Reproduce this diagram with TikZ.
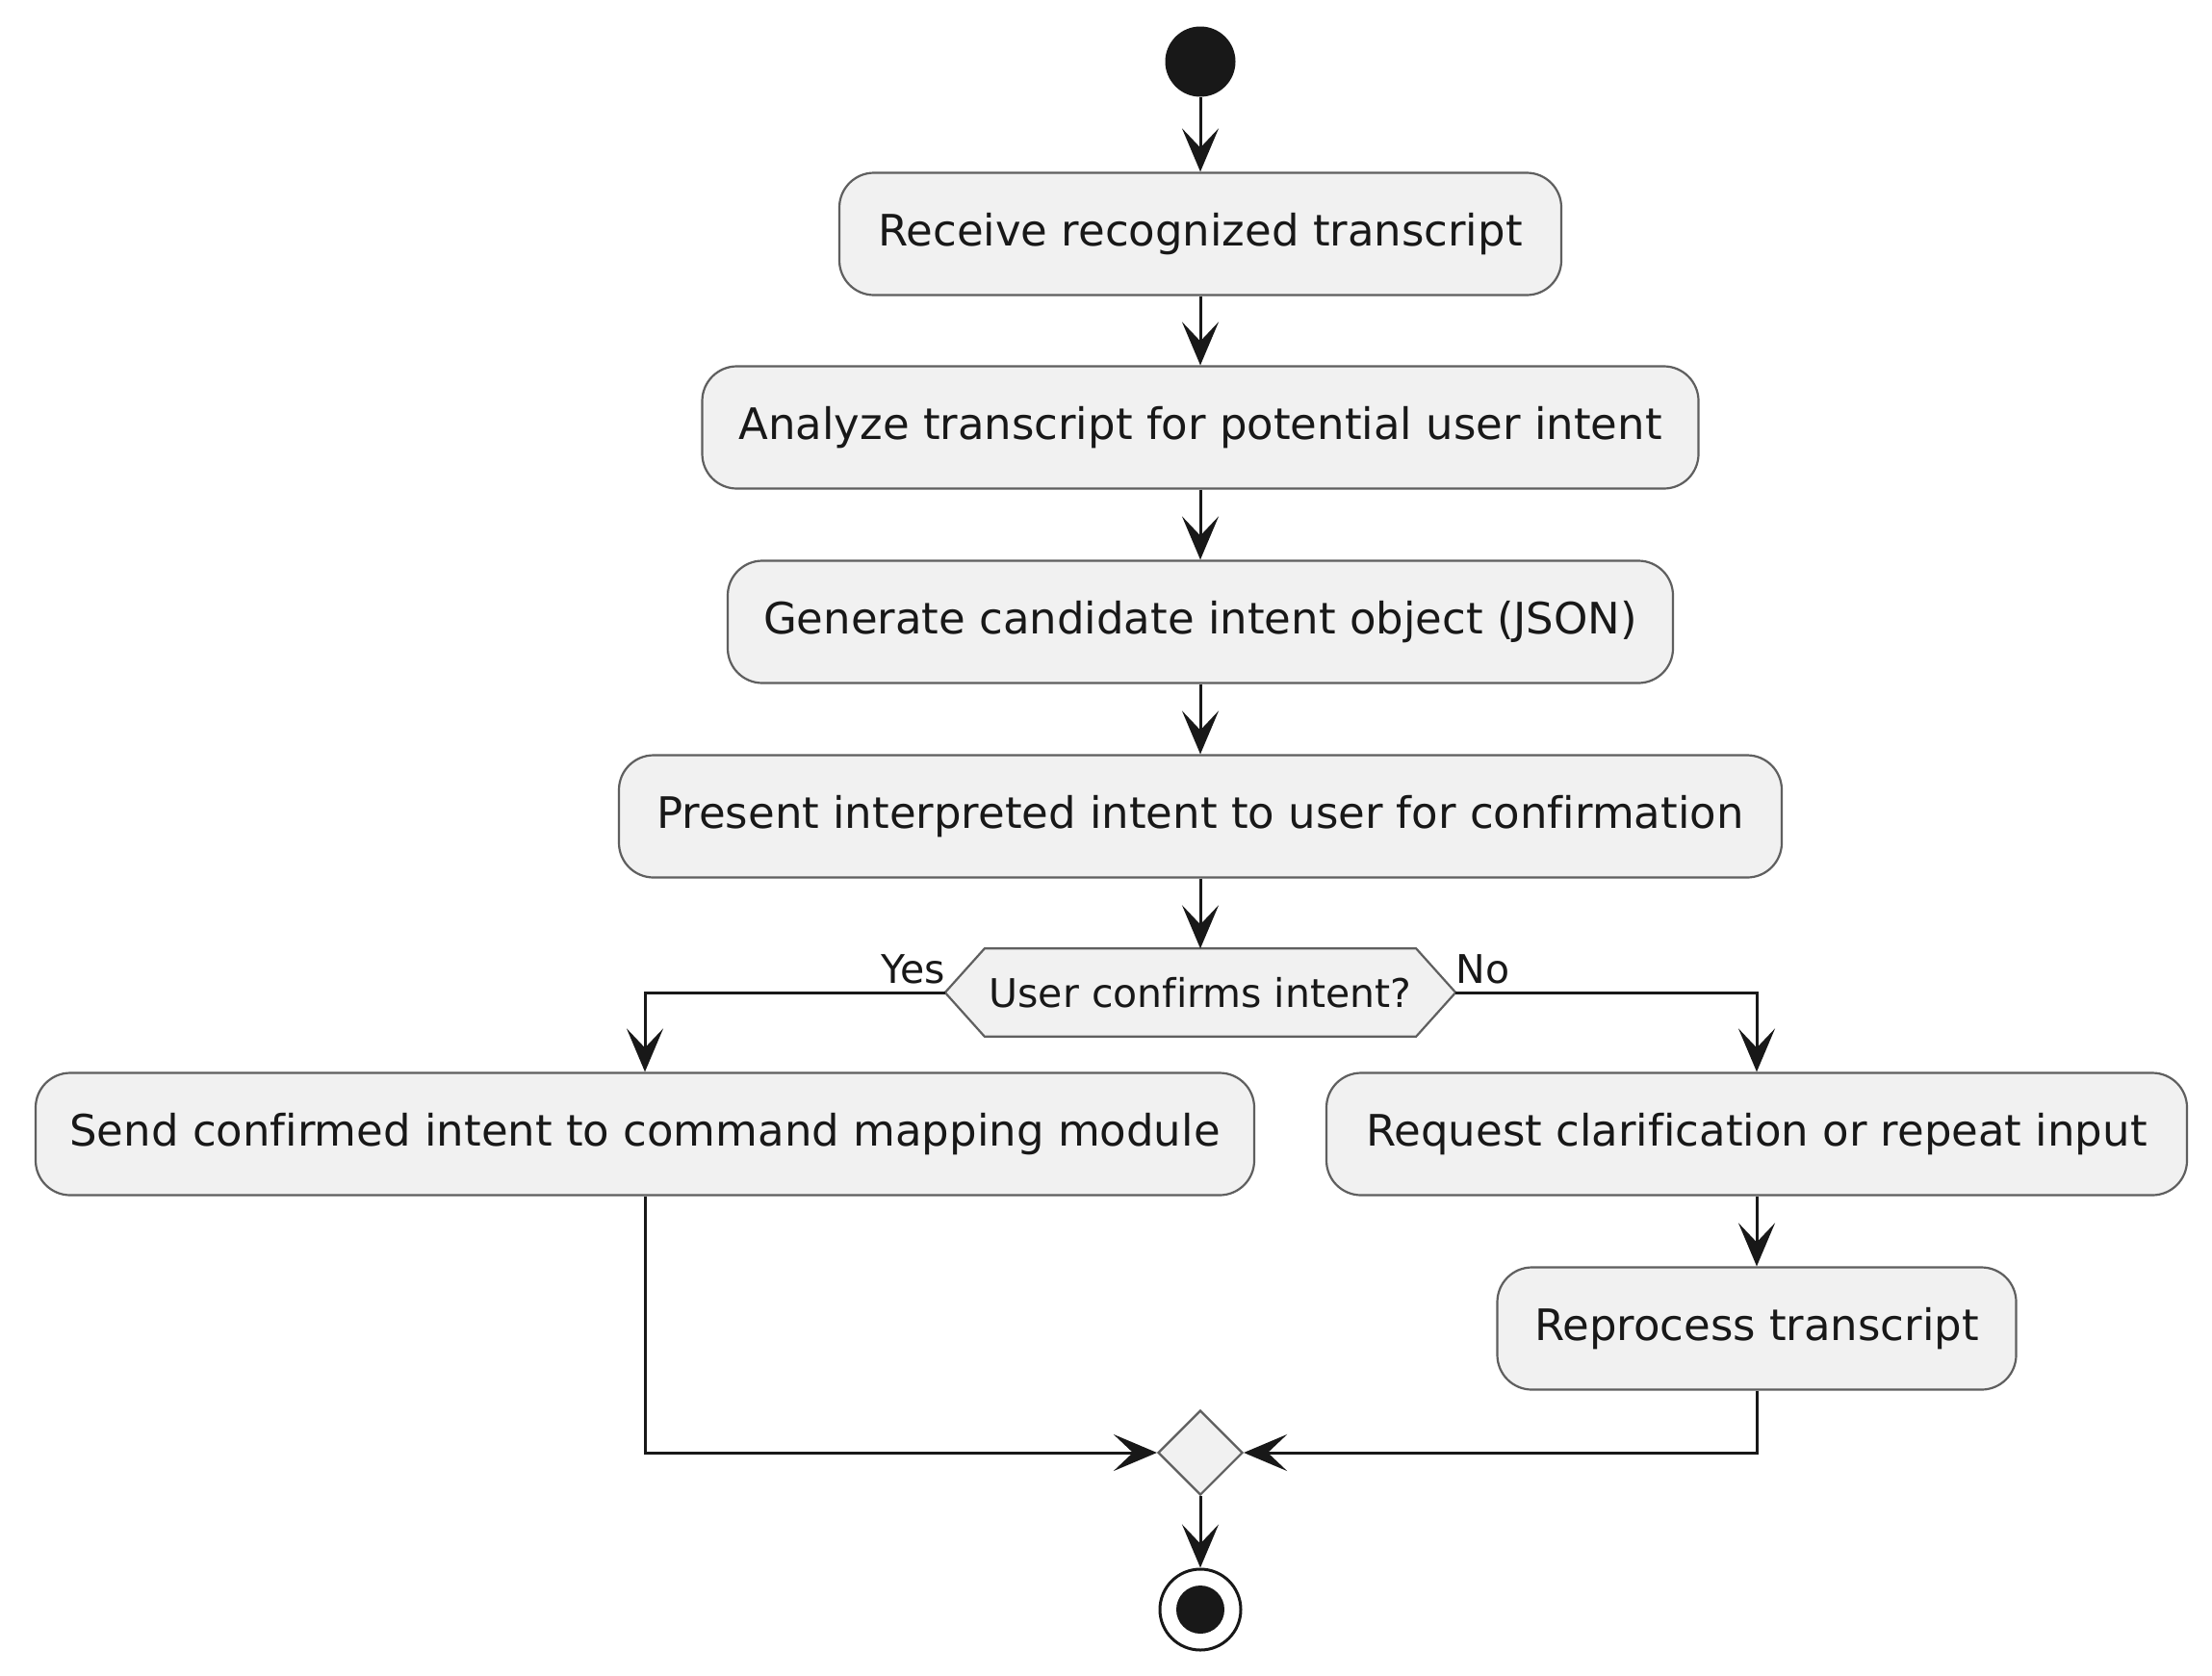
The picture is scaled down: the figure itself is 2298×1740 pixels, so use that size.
\documentclass[tikz,border=0pt]{standalone}
\usepackage{fontspec}
\setmainfont{DejaVu Sans}[Ligatures={NoCommon}]
\usetikzlibrary{arrows.meta,shapes.geometric,backgrounds}
\definecolor{ink}{HTML}{181818}
\definecolor{boxfill}{HTML}{F1F1F1}
\definecolor{boxline}{HTML}{5F5F5F}
\begin{document}
\begin{tikzpicture}[x=1pt,y=-1pt,
  act/.style={rectangle, rounded corners=36pt, draw=boxline, line width=2.2pt, fill=boxfill, text=ink, minimum height=127pt, inner sep=0pt, font=\fontsize{45pt}{54pt}\selectfont},
  arr/.style={draw=ink, line width=3pt, -{Stealth[length=45pt,width=38pt,inset=20pt]}},
  lbl/.style={text=ink, inner sep=0pt, font=\fontsize{41pt}{49pt}\selectfont}]
\useasboundingbox (0,0) rectangle (2298,1740);

\node[circle, fill=ink, minimum size=73pt, inner sep=0pt] (start) at (1247,64) {};
\node[act, minimum width=750pt] (recv) at (1247,243) {Receive recognized transcript};
\node[act, minimum width=1035pt] (anal) at (1247,444) {Analyze transcript for potential user intent};
\node[act, minimum width=982pt] (gen) at (1247,646) {Generate candidate intent object (JSON)};
\node[act, minimum width=1208pt] (pres) at (1247,848) {Present interpreted intent to user for confirmation};
\node[lbl, rectangle, minimum width=530pt, minimum height=91pt] (dec) at (1247,1031) {User confirms intent?};
\begin{scope}[on background layer]
\fill[white] (0,0) rectangle (2298,1740);
\filldraw[draw=boxline, fill=boxfill, line width=2.2pt] (dec.west) -- ([xshift=41pt]dec.north west) -- ([xshift=-41pt]dec.north east) -- (dec.east) -- ([xshift=-41pt]dec.south east) -- ([xshift=41pt]dec.south west) -- cycle;
\end{scope}
\node[act, minimum width=1266pt] (send) at (670,1178) {Send confirmed intent to command mapping module};
\node[act, minimum width=894pt] (req) at (1825,1178) {Request clarification or repeat input};
\node[act, minimum width=539pt] (rep) at (1825,1380) {Reprocess transcript};
\node[diamond, draw=boxline, fill=boxfill, line width=2.2pt, minimum width=88pt, minimum height=88pt, inner sep=0pt] (merge) at (1247,1509) {};
\node[circle, draw=ink, line width=3pt, minimum size=84pt, inner sep=0pt, path picture={\fill[ink] (path picture bounding box.center) circle[radius=25pt];}] (stop) at (1247,1672) {};

\node[lbl, anchor=base east] at ([yshift=10pt]dec.west) {Yes};
\node[lbl, anchor=base west] at ([yshift=10pt]dec.east) {No};

\draw[arr] (start) -- (recv);
\draw[arr] (recv) -- (anal);
\draw[arr] (anal) -- (gen);
\draw[arr] (gen) -- (pres);
\draw[arr] (pres) -- (dec.north);
\draw[arr] (dec.west) -| (send.north);
\draw[arr] (dec.east) -| (req.north);
\draw[arr] (req) -- (rep);
\draw[arr] (send.south) |- (merge.west);
\draw[arr] (rep.south) |- (merge.east);
\draw[arr] (merge) -- (stop);
\end{tikzpicture}
\end{document}
